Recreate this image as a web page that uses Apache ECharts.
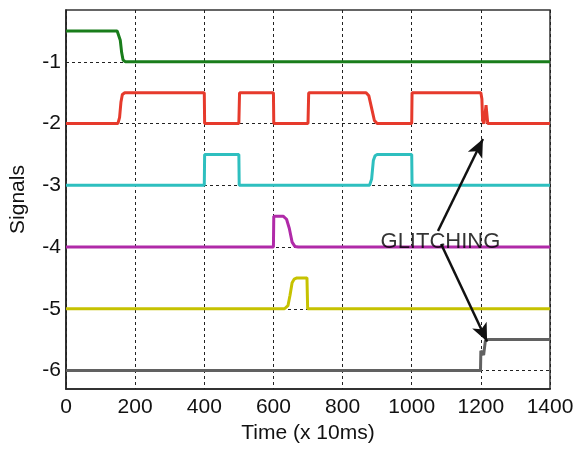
<!DOCTYPE html>
<html>
<head>
<meta charset="utf-8">
<script src="https://cdn.jsdelivr.net/npm/echarts@6/dist/echarts.min.js"></script>
<style>html,body{margin:0;padding:0;background:#fff;}#c{width:581px;height:449px;}</style>
</head>
<body>
<div id="c"></div>
<script>
// x tick values (time, x 10ms) and y tick values
var xTicks = [0, 200, 400, 600, 800, 1000, 1200, 1400];
var yTicks = [-6, -5, -4, -3, -2, -1];

// Signal traces: [time, level]
var signal1 = [[0,-0.5],[148,-0.5],[153,-0.53],[157,-0.65],[161,-0.85],[165,-0.97],[172,-1],[1400,-1]];
var signal2 = [[0,-2],[150,-2],[155,-1.9],[159,-1.65],[163,-1.53],[170,-1.5],[400,-1.5],[401,-2],[500,-2],[502,-1.5],[600,-1.5],[601,-2],[700,-2],[702,-1.5],[868,-1.5],[876,-1.55],[884,-1.75],[892,-1.95],[900,-2],[1000,-2],[1001,-1.5],[1200,-1.5],[1203,-1.6],[1205,-1.95],[1209,-2],[1213,-2],[1215,-1.7],[1218,-1.7],[1220,-2],[1400,-2]];
var signal3 = [[0,-3],[400,-3],[401,-2.5],[500,-2.5],[501,-3],[878,-3],[884,-2.9],[889,-2.6],[894,-2.52],[900,-2.5],[1000,-2.5],[1001,-3],[1400,-3]];
var signal4 = [[0,-4],[600,-4],[601,-3.5],[628,-3.5],[638,-3.55],[646,-3.7],[654,-3.92],[662,-3.99],[672,-4],[1400,-4]];
var signal5 = [[0,-5],[632,-5],[642,-4.95],[648,-4.78],[654,-4.58],[660,-4.52],[668,-4.5],[697,-4.5],[699,-5],[1400,-5]];
var signal6 = [[0,-6],[1199,-6],[1200,-5.68],[1205,-5.68],[1208,-5.75],[1213,-5.52],[1220,-5.5],[1400,-5.5]];

// Annotation
var annotText = 'GLITCHING';
var annotPos = [1083, -3.92];
var arrow1 = [[1076, -3.74], [1206, -2.25]];
var arrow2 = [[1085, -3.95], [1218, -5.53]];

var seriesData = [signal1, signal2, signal3, signal4, signal5, signal6];
var colors = ['#197d1b', '#e63a2c', '#2ebfbf', '#b02aa8', '#c6c200', '#616161'];

var series = seriesData.map(function (d, i) {
  return {
    type: 'line', data: d, symbol: 'none', z: 3,
    lineStyle: { color: colors[i], width: 3 },
    animation: false
  };
});

series.push({
  type: 'scatter',
  data: [annotPos],
  symbolSize: 0,
  z: 6,
  label: {
    show: true, position: 'inside', formatter: annotText,
    fontFamily: 'Liberation Sans', fontSize: 22, color: '#000'
  },
  markLine: {
    silent: true, animation: false,
    symbol: ['none', 'arrow'],
    symbolSize: [12, 18],
    label: { show: false },
    lineStyle: { color: '#111', width: 2.5, type: 'solid' },
    data: [
      [{ coord: arrow1[0], symbol: 'none' }, { coord: arrow1[1], symbol: 'arrow' }],
      [{ coord: arrow2[0], symbol: 'none' }, { coord: arrow2[1], symbol: 'arrow' }]
    ]
  },
  animation: false
});

var chart = echarts.init(document.getElementById('c'), null, { renderer: 'canvas' });
chart.setOption({
  backgroundColor: '#fff',
  animation: false,
  grid: { left: 66, right: 31, top: 10, bottom: 59, show: true, borderColor: '#333', borderWidth: 1.5, containLabel: false },
  xAxis: {
    type: 'value', min: 0, max: 1400, interval: 200,
    name: 'Time (x 10ms)', nameLocation: 'middle', nameGap: 34,
    nameTextStyle: { fontFamily: 'Liberation Sans', fontSize: 21, color: '#111' },
    axisLine: { show: true, lineStyle: { color: '#222', width: 1.5 } },
    axisTick: { show: false },
    axisLabel: { fontFamily: 'Liberation Sans', fontSize: 21, color: '#111', margin: 8,
      customValues: xTicks, formatter: function (v) { return String(v); } },
    splitLine: { show: true, lineStyle: { color: '#222', width: 1, type: [3, 3] } }
  },
  yAxis: {
    type: 'value', min: -6.3, max: -0.16,
    name: 'Signals', nameLocation: 'middle', nameGap: 37,
    nameTextStyle: { fontFamily: 'Liberation Sans', fontSize: 21, color: '#111' },
    axisLine: { show: true, lineStyle: { color: '#222', width: 1.5 } },
    axisTick: { show: false, customValues: yTicks },
    axisLabel: { fontFamily: 'Liberation Sans', fontSize: 21, color: '#111', margin: 5,
      customValues: yTicks, formatter: function (v) { return String(v); } },
    splitLine: { show: true, lineStyle: { color: '#222', width: 1, type: [3, 3] } }
  },
  series: series
});
</script>
</body>
</html>
